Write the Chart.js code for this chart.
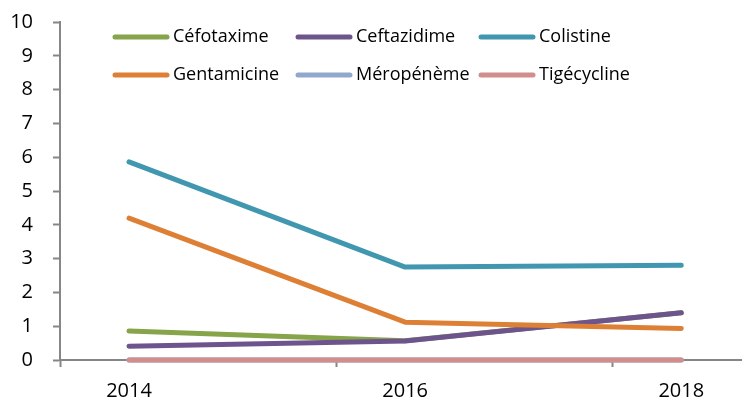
<!DOCTYPE html>
<html>
<head>
<meta charset="utf-8">
<script src="https://cdn.jsdelivr.net/npm/chart.js@4"></script>
<style>
html,body{margin:0;padding:0;background:#fff;}
#wrap{width:742px;height:406px;position:relative;}
</style>
</head>
<body>
<div id="wrap"><canvas id="c" width="742" height="406"></canvas></div>
<script>
// ---- data ----
const years = [2014, 2016, 2018];
const cefotaxime = [0.86, 0.57, 1.40];
const ceftazidime = [0.41, 0.56, 1.40];
const colistine = [5.86, 2.75, 2.80];
const gentamicine = [4.20, 1.12, 0.93];
const meropeneme = [0, 0, 0];
const tigecycline = [0, 0, 0];
const seriesNames = ['Céfotaxime', 'Ceftazidime', 'Colistine', 'Gentamicine', 'Méropénème', 'Tigécycline'];
const yTicks = [0, 1, 2, 3, 4, 5, 6, 7, 8, 9, 10];
const xTickMarks = [2013.5, 2015.5, 2017.5];

const colors = ['#86A44A', '#6E548D', '#4197B0', '#DD8036', '#91A8CE', '#D18E8D'];
const seriesValues = [cefotaxime, ceftazidime, colistine, gentamicine, meropeneme, tigecycline];

const FONT = '"Open Sans", "DejaVu Sans", sans-serif';

const datasets = seriesNames.map((name, i) => ({
  label: name,
  data: years.map((yr, j) => ({x: yr, y: seriesValues[i][j]})),
  borderColor: colors[i],
  backgroundColor: colors[i],
  borderWidth: 5,
  borderCapStyle: 'round',
  borderJoinStyle: 'round',
  pointRadius: 0,
  pointHoverRadius: 0,
  tension: 0,
  fill: false,
  clip: false,
  order: seriesNames.length - i
}));

const legendPlugin = {
  id: 'customLegend',
  afterDraw(chart) {
    const ctx = chart.ctx;
    const a = chart.chartArea;
    const colX = [a.left + 55, a.left + 238, a.left + 421];
    const rowY = [a.top + 15, a.top + 53];
    ctx.save();
    ctx.font = '18px ' + FONT;
    ctx.textBaseline = 'middle';
    ctx.textAlign = 'left';
    chart.data.datasets.forEach((ds, i) => {
      const col = i % 3, row = Math.floor(i / 3);
      const x = colX[col], y = rowY[row];
      ctx.strokeStyle = ds.borderColor;
      ctx.lineWidth = 5;
      ctx.lineCap = 'round';
      ctx.beginPath();
      ctx.moveTo(x, y);
      ctx.lineTo(x + 52, y);
      ctx.stroke();
      ctx.fillStyle = '#000';
      ctx.fillText(ds.label, x + 58, y);
    });
    ctx.restore();
  }
};

new Chart(document.getElementById('c'), {
  type: 'line',
  data: { datasets },
  plugins: [legendPlugin],
  options: {
    responsive: false,
    animation: false,
    events: [],
    layout: { padding: { top: 22, right: 0, left: 0, bottom: 0 } },
    plugins: { legend: { display: false }, tooltip: { enabled: false } },
    scales: {
      x: {
        type: 'linear',
        min: 2013.5,
        max: 2018.44,
        afterBuildTicks(scale) {
          const vals = xTickMarks.concat(years).sort((p, q) => p - q);
          scale.ticks = vals.map(v => ({ value: v }));
        },
        afterFit(scale) { scale.height = 46; scale.paddingLeft = 0; scale.paddingRight = 0; },
        border: { display: true, color: '#868686', width: 2 },
        grid: {
          drawOnChartArea: false,
          drawTicks: true,
          tickLength: 7,
          tickWidth: 2,
          tickColor: (c) => (c.tick && Number.isInteger(c.tick.value)) ? 'rgba(0,0,0,0)' : '#868686'
        },
        ticks: {
          autoSkip: false,
          maxRotation: 0,
          padding: 12,
          color: '#000',
          font: { family: FONT, size: 20 },
          callback: (v) => Number.isInteger(v) ? String(v) : ''
        }
      },
      y: {
        type: 'linear',
        min: 0,
        max: 10,
        afterBuildTicks(scale) { scale.ticks = yTicks.map(v => ({ value: v })); },
        afterFit(scale) { scale.width = 60; scale.paddingTop = 0; scale.paddingBottom = 0; },
        border: { display: true, color: '#868686', width: 2 },
        grid: {
          drawOnChartArea: false,
          drawTicks: true,
          tickLength: 7,
          tickWidth: 2,
          tickColor: '#868686'
        },
        ticks: {
          padding: 20,
          color: '#000',
          font: { family: FONT, size: 20 }
        }
      }
    }
  }
});
</script>
</body>
</html>
